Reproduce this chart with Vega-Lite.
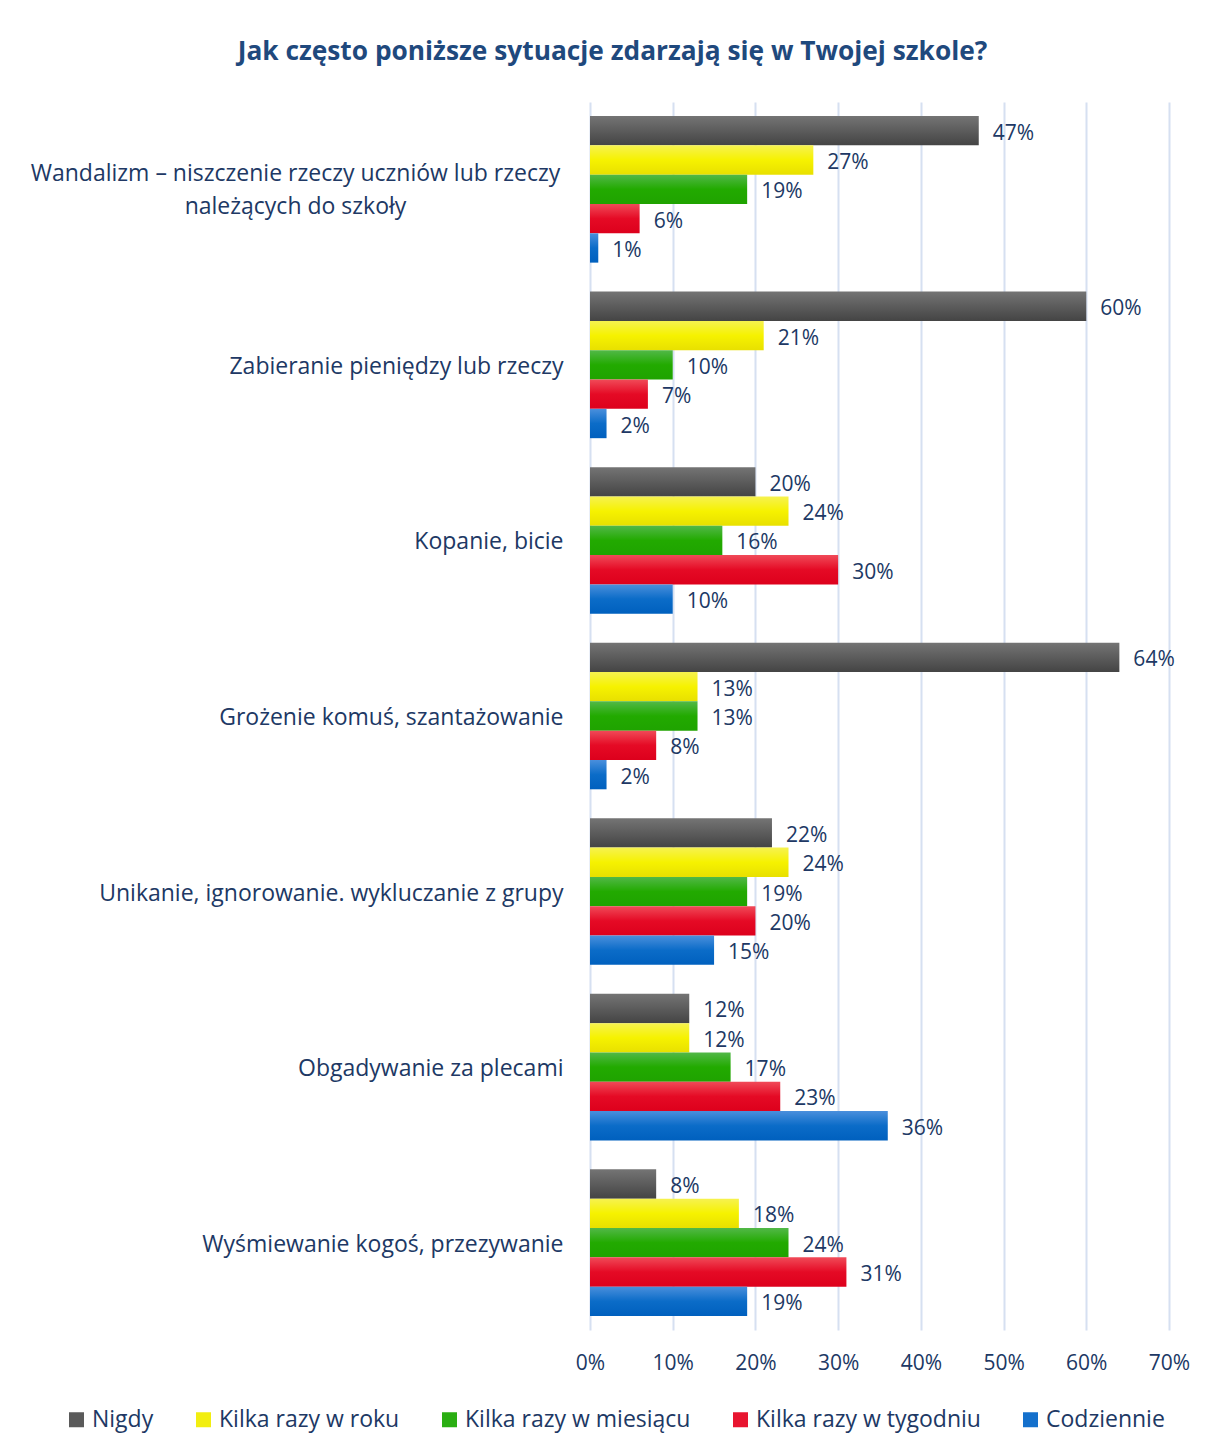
{
  "$schema": "https://vega.github.io/schema/vega-lite/v6.json",
  "width": 579,
  "height": 1228,
  "autosize": {"type": "none"},
  "padding": {"left": 590, "top": 102, "right": 36, "bottom": 118},
  "background": "white",
  "config": {
    "font": "Open Sans",
    "view": {"stroke": null}
  },
  "title": {
    "text": "Jak często poniższe sytuacje zdarzają się w Twojej szkole?",
    "font": "Open Sans",
    "fontSize": 26.3,
    "fontWeight": "bold",
    "color": "#1F497D",
    "anchor": "middle",
    "frame": "group",
    "dx": -267,
    "offset": 37
  },
  "data": {
    "values": [
      {"s": "Wandalizm – niszczenie rzeczy uczniów lub rzeczy|należących do szkoły", "k": "Nigdy", "v": 0.47},
      {"s": "Wandalizm – niszczenie rzeczy uczniów lub rzeczy|należących do szkoły", "k": "Kilka razy w roku", "v": 0.27},
      {"s": "Wandalizm – niszczenie rzeczy uczniów lub rzeczy|należących do szkoły", "k": "Kilka razy w miesiącu", "v": 0.19},
      {"s": "Wandalizm – niszczenie rzeczy uczniów lub rzeczy|należących do szkoły", "k": "Kilka razy w tygodniu", "v": 0.06},
      {"s": "Wandalizm – niszczenie rzeczy uczniów lub rzeczy|należących do szkoły", "k": "Codziennie", "v": 0.01},
      {"s": "Zabieranie pieniędzy lub rzeczy", "k": "Nigdy", "v": 0.60},
      {"s": "Zabieranie pieniędzy lub rzeczy", "k": "Kilka razy w roku", "v": 0.21},
      {"s": "Zabieranie pieniędzy lub rzeczy", "k": "Kilka razy w miesiącu", "v": 0.10},
      {"s": "Zabieranie pieniędzy lub rzeczy", "k": "Kilka razy w tygodniu", "v": 0.07},
      {"s": "Zabieranie pieniędzy lub rzeczy", "k": "Codziennie", "v": 0.02},
      {"s": "Kopanie, bicie", "k": "Nigdy", "v": 0.20},
      {"s": "Kopanie, bicie", "k": "Kilka razy w roku", "v": 0.24},
      {"s": "Kopanie, bicie", "k": "Kilka razy w miesiącu", "v": 0.16},
      {"s": "Kopanie, bicie", "k": "Kilka razy w tygodniu", "v": 0.30},
      {"s": "Kopanie, bicie", "k": "Codziennie", "v": 0.10},
      {"s": "Grożenie komuś, szantażowanie", "k": "Nigdy", "v": 0.64},
      {"s": "Grożenie komuś, szantażowanie", "k": "Kilka razy w roku", "v": 0.13},
      {"s": "Grożenie komuś, szantażowanie", "k": "Kilka razy w miesiącu", "v": 0.13},
      {"s": "Grożenie komuś, szantażowanie", "k": "Kilka razy w tygodniu", "v": 0.08},
      {"s": "Grożenie komuś, szantażowanie", "k": "Codziennie", "v": 0.02},
      {"s": "Unikanie, ignorowanie. wykluczanie z grupy", "k": "Nigdy", "v": 0.22},
      {"s": "Unikanie, ignorowanie. wykluczanie z grupy", "k": "Kilka razy w roku", "v": 0.24},
      {"s": "Unikanie, ignorowanie. wykluczanie z grupy", "k": "Kilka razy w miesiącu", "v": 0.19},
      {"s": "Unikanie, ignorowanie. wykluczanie z grupy", "k": "Kilka razy w tygodniu", "v": 0.20},
      {"s": "Unikanie, ignorowanie. wykluczanie z grupy", "k": "Codziennie", "v": 0.15},
      {"s": "Obgadywanie za plecami", "k": "Nigdy", "v": 0.12},
      {"s": "Obgadywanie za plecami", "k": "Kilka razy w roku", "v": 0.12},
      {"s": "Obgadywanie za plecami", "k": "Kilka razy w miesiącu", "v": 0.17},
      {"s": "Obgadywanie za plecami", "k": "Kilka razy w tygodniu", "v": 0.23},
      {"s": "Obgadywanie za plecami", "k": "Codziennie", "v": 0.36},
      {"s": "Wyśmiewanie kogoś, przezywanie", "k": "Nigdy", "v": 0.08},
      {"s": "Wyśmiewanie kogoś, przezywanie", "k": "Kilka razy w roku", "v": 0.18},
      {"s": "Wyśmiewanie kogoś, przezywanie", "k": "Kilka razy w miesiącu", "v": 0.24},
      {"s": "Wyśmiewanie kogoś, przezywanie", "k": "Kilka razy w tygodniu", "v": 0.31},
      {"s": "Wyśmiewanie kogoś, przezywanie", "k": "Codziennie", "v": 0.19}
    ]
  },
  "encoding": {
    "y": {
      "field": "s",
      "type": "nominal",
      "sort": null,
      "scale": {"paddingInner": 0.165, "paddingOuter": 0.08},
      "axis": {
        "title": null,
        "domain": false,
        "ticks": false,
        "labelPadding": {"condition": {"test": "indexof(datum.label, '|') >= 0", "value": 295}, "value": 27},
        "labelAlign": {"condition": {"test": "indexof(datum.label, '|') >= 0", "value": "center"}, "value": "right"},
        "labelFont": "Open Sans",
        "labelFontSize": 23,
        "labelColor": "#203864",
        "labelLimit": 700,
        "labelLineHeight": 33,
        "labelOffset": {"condition": {"test": "indexof(datum.label, '|') >= 0", "value": -15}, "value": 2},
        "labelExpr": "split(datum.label, '|')"
      }
    },
    "yOffset": {
      "field": "k",
      "type": "nominal",
      "sort": ["Nigdy", "Kilka razy w roku", "Kilka razy w miesiącu", "Kilka razy w tygodniu", "Codziennie"],
      "scale": {"paddingInner": 0, "paddingOuter": 0}
    },
    "x": {
      "field": "v",
      "type": "quantitative",
      "scale": {"domain": [0, 0.7], "nice": false},
      "axis": {
        "title": null,
        "format": ".0%",
        "values": [0, 0.1, 0.2, 0.3, 0.4, 0.5, 0.6, 0.7],
        "domain": false,
        "ticks": false,
        "grid": true,
        "gridColor": "#D6E0F1",
        "gridWidth": 2,
        "labelPadding": 22,
        "labelFont": "Open Sans",
        "labelFontSize": 21,
        "labelColor": "#203864",
        "labelFlush": false
      }
    }
  },
  "layer": [
    {
      "mark": {"type": "bar", "cornerRadius": 0},
      "encoding": {
        "fill": {
          "condition": [
            {"test": "datum.k === 'Nigdy'", "value": {"gradient": "linear", "x1": 0, "y1": 0, "x2": 0, "y2": 1, "stops": [{"offset": 0, "color": "#747474"}, {"offset": 1, "color": "#444444"}]}},
            {"test": "datum.k === 'Kilka razy w roku'", "value": {"gradient": "linear", "x1": 0, "y1": 0, "x2": 0, "y2": 1, "stops": [{"offset": 0, "color": "#F6F250"}, {"offset": 0.5, "color": "#F6F200"}, {"offset": 1, "color": "#E8E000"}]}},
            {"test": "datum.k === 'Kilka razy w miesiącu'", "value": {"gradient": "linear", "x1": 0, "y1": 0, "x2": 0, "y2": 1, "stops": [{"offset": 0, "color": "#52B848"}, {"offset": 0.5, "color": "#22AA00"}, {"offset": 1, "color": "#1FA300"}]}},
            {"test": "datum.k === 'Kilka razy w tygodniu'", "value": {"gradient": "linear", "x1": 0, "y1": 0, "x2": 0, "y2": 1, "stops": [{"offset": 0, "color": "#F04A58"}, {"offset": 0.5, "color": "#E50A25"}, {"offset": 1, "color": "#DD001C"}]}},
            {"test": "datum.k === 'Codziennie'", "value": {"gradient": "linear", "x1": 0, "y1": 0, "x2": 0, "y2": 1, "stops": [{"offset": 0, "color": "#4A8FDC"}, {"offset": 0.5, "color": "#0B6CC8"}, {"offset": 1, "color": "#0060BE"}]}}
          ],
          "field": "k",
          "type": "nominal",
          "sort": ["Nigdy", "Kilka razy w roku", "Kilka razy w miesiącu", "Kilka razy w tygodniu", "Codziennie"],
          "scale": {
            "domain": ["Nigdy", "Kilka razy w roku", "Kilka razy w miesiącu", "Kilka razy w tygodniu", "Codziennie"],
            "range": ["#5A5A5A", "#F2EE10", "#2AAE12", "#E81530", "#1470CC"]
          },
          "legend": {
            "title": null,
            "orient": "none",
            "legendX": -525,
            "legendY": 1306,
            "direction": "horizontal",
            "columns": 5,
            "columnPadding": 38,
            "symbolType": "square",
            "symbolSize": 225,
            "symbolStrokeWidth": 0,
            "labelFont": "Open Sans",
            "labelFontSize": 23,
            "labelColor": "#203864",
            "labelLimit": 400,
            "labelOffset": 4
          }
        }
      }
    },
    {
      "mark": {"type": "text", "align": "left", "baseline": "middle", "dx": 14, "dy": 3, "font": "Open Sans", "fontSize": 21, "color": "#203864"},
      "encoding": {
        "text": {"field": "v", "type": "quantitative", "format": ".0%"}
      }
    }
  ]
}
